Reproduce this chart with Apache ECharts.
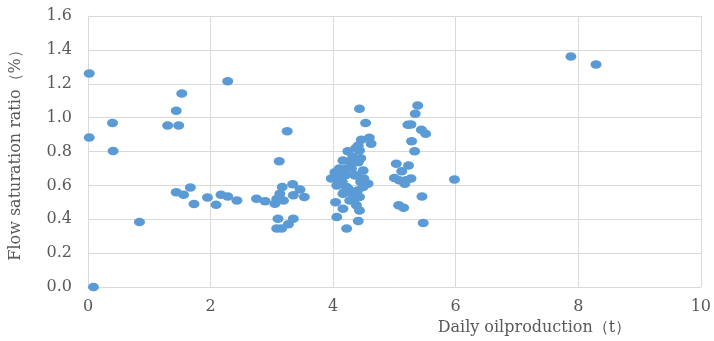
<!DOCTYPE html>
<html>
<head>
<meta charset="utf-8">
<script src="https://cdn.jsdelivr.net/npm/echarts@6/dist/echarts.min.js"></script>
<style>
  html, body { margin: 0; padding: 0; background: #ffffff; }
  #chart { width: 714px; height: 341px; }
</style>
</head>
<body>
<div id="chart"></div>
<script>
// Daily oil production (t) per well
const oilProduction = [
  0.02, 0.02, 0.09, 0.40, 0.41, 0.84, 1.30, 1.44, 1.48, 1.53,
  1.44, 1.56, 1.67, 1.73, 1.95, 2.09, 2.17, 2.28, 2.28, 2.43,
  2.75, 2.89, 3.25, 3.12, 3.17, 3.34, 3.46, 3.53, 3.08, 3.05,
  3.19, 3.13, 3.35, 3.10, 3.35, 3.08, 3.16, 3.27,
  4.43, 4.53, 4.59, 4.62, 4.46, 4.41, 4.24, 4.43, 4.16, 4.30,
  4.41, 4.03, 4.22, 4.49, 3.97, 4.11, 4.38, 4.06, 4.22, 4.57,
  4.49, 4.16, 4.33, 4.43, 4.04, 4.27, 4.38, 4.16, 4.43, 4.06,
  4.41, 4.22, 4.30, 4.35, 4.25, 4.40, 4.45, 4.20, 4.08, 4.15,
  4.32, 4.37, 4.10, 4.28, 4.45, 4.18, 4.35, 4.50,
  5.38, 5.34, 5.22, 5.27, 5.44, 5.51, 5.28, 5.33, 5.03, 5.23,
  5.12, 5.00, 5.08, 5.17, 5.27, 5.19, 5.98, 5.45, 5.07, 5.15,
  5.47, 7.88, 8.29
];

// Flow saturation ratio (%) for the same wells
const saturationRatio = [
  1.260, 0.883, 0.000, 0.968, 0.803, 0.384, 0.954, 1.040, 0.954, 1.143,
  0.559, 0.545, 0.588, 0.490, 0.529, 0.486, 0.545, 1.215, 0.535, 0.510,
  0.521, 0.507, 0.920, 0.743, 0.590, 0.606, 0.575, 0.531, 0.520, 0.492,
  0.511, 0.551, 0.541, 0.403, 0.403, 0.345, 0.345, 0.370,
  1.052, 0.968, 0.881, 0.846, 0.870, 0.836, 0.802, 0.806, 0.747, 0.747,
  0.737, 0.678, 0.699, 0.688, 0.640, 0.630, 0.659, 0.600, 0.590, 0.610,
  0.590, 0.551, 0.541, 0.531, 0.501, 0.511, 0.482, 0.462, 0.452, 0.413,
  0.389, 0.345, 0.700, 0.660, 0.580, 0.570, 0.620, 0.660, 0.660, 0.620,
  0.770, 0.820, 0.700, 0.740, 0.760, 0.560, 0.520, 0.640,
  1.072, 1.023, 0.958, 0.960, 0.929, 0.905, 0.860, 0.802, 0.728, 0.718,
  0.683, 0.643, 0.630, 0.610, 0.640, 0.630, 0.635, 0.535, 0.482, 0.468,
  0.378, 1.361, 1.314
];

const points = oilProduction.map((x, i) => [x, saturationRatio[i]]);

const textColor = '#595959';
const gridColor = '#d9d9d9';
const serif = '"DejaVu Serif", "Liberation Serif", serif';

const chart = echarts.init(document.getElementById('chart'), null, { renderer: 'canvas' });

chart.setOption({
  backgroundColor: '#ffffff',
  animation: false,
  grid: { left: 87, right: 12, top: 16, bottom: 54, containLabel: false },
  xAxis: {
    type: 'value',
    min: 0, max: 10, interval: 2,
    name: 'Daily oilproduction（t）',
    nameLocation: 'middle',
    nameGap: 30,
    nameTextStyle: {
      color: textColor, fontFamily: serif, fontSize: 16,
      padding: [0, 0, 0, 280]
    },
    axisLine: { show: true, lineStyle: { color: gridColor, width: 1 } },
    axisTick: { show: false },
    axisLabel: { color: textColor, fontFamily: serif, fontSize: 16, margin: 12 },
    splitLine: { show: true, lineStyle: { color: gridColor, width: 1 } }
  },
  yAxis: {
    type: 'value',
    min: 0, max: 1.6, interval: 0.2,
    name: 'Flow saturation ratio（%）',
    nameLocation: 'middle',
    nameGap: 64,
    nameTextStyle: { color: textColor, fontFamily: serif, fontSize: 16 },
    axisLine: { show: true, lineStyle: { color: gridColor, width: 1 } },
    axisTick: { show: false },
    axisLabel: {
      color: textColor, fontFamily: serif, fontSize: 16, margin: 16,
      formatter: v => v.toFixed(1)
    },
    splitLine: { show: true, lineStyle: { color: gridColor, width: 1 } }
  },
  series: [{
    type: 'scatter',
    data: points,
    symbol: 'path://M0,5 A5,5 0 1,1 10,5 A5,5 0 1,1 0,5 Z',
    symbolSize: [11, 8.5],
    itemStyle: { color: '#5b9bd5', opacity: 1 }
  }]
});
</script>
</body>
</html>
